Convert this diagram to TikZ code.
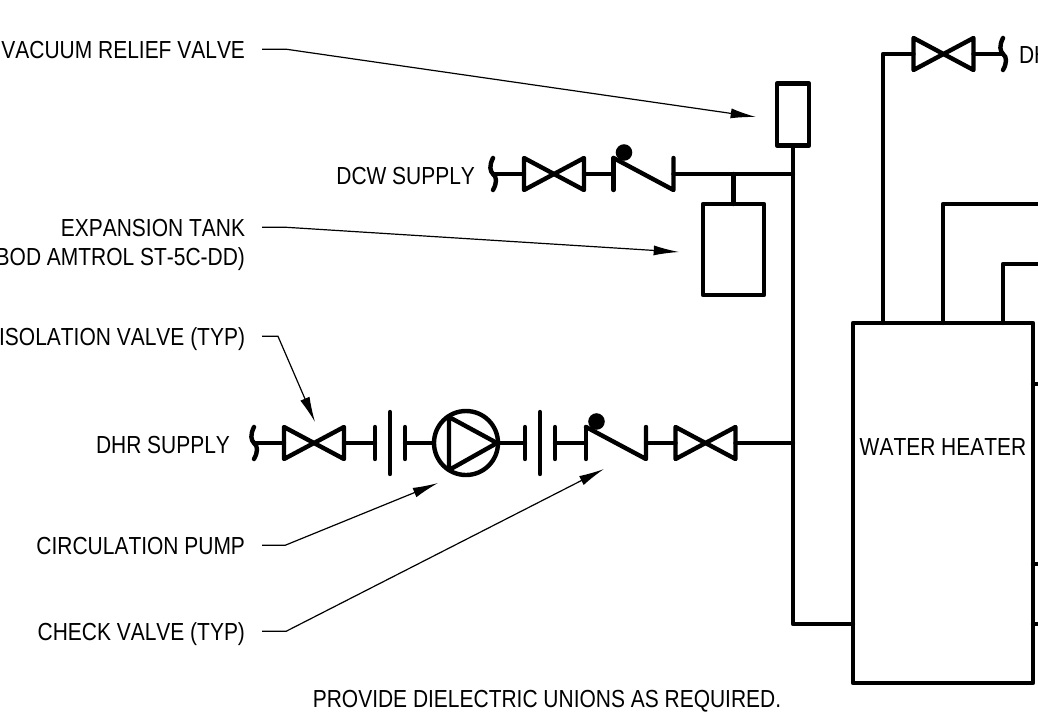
\documentclass[tikz,border=0pt]{standalone}
\usepackage{fontspec}
\setmainfont[FakeStretch=.85,Kerning=Off]{Liberation Sans}
\usetikzlibrary{arrows.meta}
\tikzset{
	pipe/.style = {line width=3.3pt, line cap=round, line join=round},
	leader/.style = {line width=.9pt, shorten <=12.75pt, -{Latex[length=19pt,width=7.5pt]}},
	vessel/.style = {draw, pipe, rectangle, inner sep=0pt, outer sep=0pt},
	lbl/.style = {inner sep=0pt, outer sep=0pt, text height=13pt, text depth=0pt, font=\fontsize{18.5}{20}\selectfont},
	valve/.pic = {
		\draw[pipe] (-30,-16) -- (30,16) -- (30,-16) -- (-30,16) -- cycle;
		\coordinate (-l) at (-30,0);
		\coordinate (-r) at (30,0);
	},
	checkvalve/.pic = {
		\draw[pipe] (-30,-16) -- (-30,16);
		\draw[pipe] (-30,-16) -- (30,16) -- (30,-16);
		\fill (-19.5,-21.5) circle (6.2pt);
		\coordinate (-l) at (-30,0);
		\coordinate (-r) at (30,0);
	},
	dielectric/.pic = {
		\draw[pipe] (-15,-16) -- (-15,16);
		\draw[pipe] (0,-31) -- (0,31);
		\draw[pipe] (15,-16) -- (15,16);
		\coordinate (-l) at (-15,0);
		\coordinate (-r) at (15,0);
	},
	pipebreak/.pic = {
		\draw[pipe] (0,-16) .. controls (-4,-8) and (-3,-3) .. (0,0) .. controls (4,3) and (4,9) .. (0,16);
		\coordinate (-c) at (0,0);
	}
}

\begin{document}
\begin{tikzpicture}[x=.75pt, y=-.75pt]
	\useasboundingbox (0,0) rectangle (1038,715);
	\clip (0,0) rectangle (1038,715);

	% equipment
	\node[vessel, minimum width=24pt, minimum height=46.5pt] (relief) at (793,114.5) {};
	\node[vessel, minimum width=45.75pt, minimum height=68.25pt] (tank) at (733.5,249.5) {};
	\node[vessel, minimum width=135pt, minimum height=270pt] (heater) at (943,503) {};
	\node[vessel, circle, minimum size=48pt] (pump) at (466,443) {};
	\draw[pipe] (pump.center) ++(-17,-26) -- ++(0,53) -- ++(48,-27) -- cycle;

	% DCW branch
	\pic (dcwbreak) at (493,174) {pipebreak};
	\pic (dcwvalve) at (554,174) {valve};
	\pic (dcwcheck) at (643.5,174) {checkvalve};
	\coordinate (dcwtee) at (793,174);
	\draw[pipe] (dcwbreak-c) -- (dcwvalve-l);
	\draw[pipe] (dcwvalve-r) -- (dcwcheck-l);
	\draw[pipe] (dcwcheck-r) -- (dcwtee);
	\draw[pipe] (tank.north) -- (tank.north |- dcwtee);

	% DHR branch
	\pic (dhrbreak) at (254,443) {pipebreak};
	\pic (dhrvalve) at (314,443) {valve};
	\pic (unionl) at (390,443) {dielectric};
	\pic (unionr) at (540,443) {dielectric};
	\pic (dhrcheck) at (616,443) {checkvalve};
	\pic (pumpvalve) at (705.5,443) {valve};
	\coordinate (dhrtee) at (793,443);
	\coordinate (maincorner) at (793,624);
	\draw[pipe] (dhrbreak-c) -- (dhrvalve-l);
	\draw[pipe] (dhrvalve-r) -- (unionl-l);
	\draw[pipe] (unionl-r) -- (pump.west);
	\draw[pipe] (pump.east) -- (unionr-l);
	\draw[pipe] (unionr-r) -- (dhrcheck-l);
	\draw[pipe] (dhrcheck-r) -- (pumpvalve-l);
	\draw[pipe] (pumpvalve-r) -- (dhrtee);
	\draw[pipe] (relief.south) -- (maincorner) -- (heater.west |- maincorner);

	% heater top and side connections
	\pic (topvalve) at (943.5,54) {valve};
	\pic (topbreak) at (1003,54) {pipebreak};
	\coordinate (tapa) at (883,323);
	\draw[pipe] (tapa) |- (topvalve-l);
	\draw[pipe] (topvalve-r) -- (topbreak-c);
	\foreach \xpos/\ypos in {943/204, 1003/264}
		\draw[pipe] (\xpos,323) |- (1050,\ypos);
	\foreach \ypos in {384, 564, 624}
		\draw[pipe] (heater.east |- 0,\ypos) -- (1050,\ypos);

	% labels
	\node[lbl, anchor=base east] (vaclbl) at (245,58) {VACUUM RELIEF VALVE};
	\node[lbl, anchor=base east] (explbl) at (245,236) {EXPANSION TANK};
	\node[lbl, anchor=base east] (bodlbl) at (245,265) {(BOD AMTROL ST-5C-DD)};
	\node[lbl, anchor=base east] (isolbl) at (245,345) {ISOLATION VALVE (TYP)};
	\node[lbl, anchor=base east] (circlbl) at (245,554) {CIRCULATION PUMP};
	\node[lbl, anchor=base east] (chklbl) at (245,640) {CHECK VALVE (TYP)};
	\node[lbl, anchor=base east] (dcwlbl) at (475,184) {DCW SUPPLY};
	\node[lbl, anchor=base east] (dhrlbl) at (230,453) {DHR SUPPLY};
	\node[lbl, anchor=base west] (toplbl) at (1019,63) {DH};
	\node[lbl, anchor=base] (heaterlbl) at (943,455) {WATER HEATER};
	\node[lbl, anchor=base] (notelbl) at (547,707) {PROVIDE DIELECTRIC UNIONS AS REQUIRED.};

	% leaders
	\coordinate (vactip) at (756,117);
	\coordinate (exptip) at (679,252);
	\coordinate (isotip) at (315,422);
	\coordinate (circtip) at (438,483);
	\coordinate (chktip) at (604,469);
	\draw[leader] (vaclbl.east) -- ++(42,0) -- (vactip);
	\draw[leader] (explbl.east) -- ++(42,0) -- (exptip);
	\draw[leader] (isolbl.east) -- ++(33,0) -- (isotip);
	\draw[leader] (circlbl.east) -- ++(40,0) -- (circtip);
	\draw[leader] (chklbl.east) -- ++(41,0) -- (chktip);
\end{tikzpicture}
\end{document}
